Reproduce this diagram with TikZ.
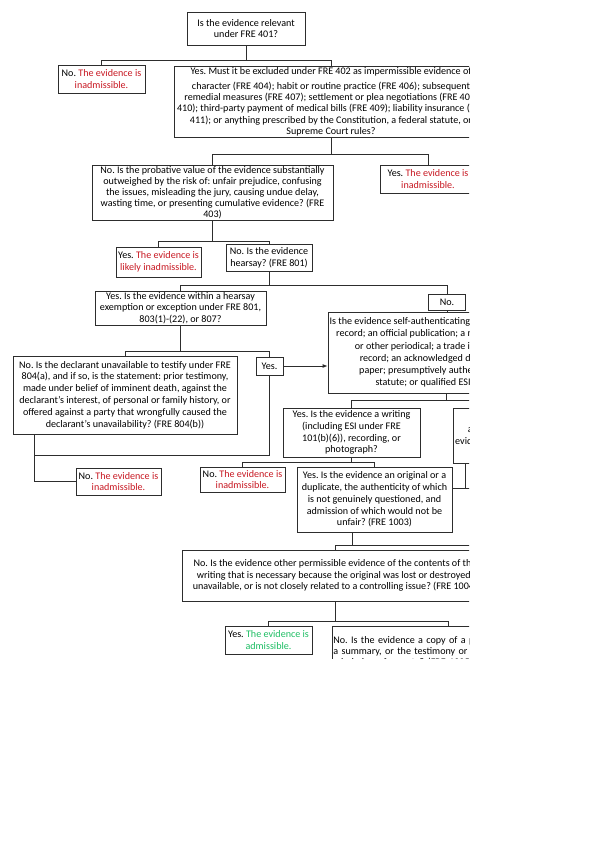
\documentclass[tikz,border=0pt]{standalone}
\usepackage{fontspec}
\setmainfont{Carlito}
\usepackage{xcolor}
\usepackage{tikz}
\usetikzlibrary{arrows.meta,calc}
\definecolor{boxline}{RGB}{45,45,45}
\definecolor{nored}{RGB}{200,25,35}
\definecolor{okgreen}{RGB}{30,190,100}
\newcommand{\bad}[1]{\textcolor{nored}{#1}}
\newcommand{\good}[1]{\textcolor{okgreen}{#1}}
\frenchspacing

\begin{document}
\begin{tikzpicture}[x=1pt,y=-1pt,
    box/.style={draw=boxline,fill=white,line width=0.75pt,align=center,inner sep=1pt,
      font=\fontsize{10.1}{11.8}\selectfont},
    link/.style={draw=boxline,line width=0.9pt}]
  \useasboundingbox (0,0) rectangle (595,842);
  \begin{scope}
  \clip (0,0) rectangle (469,658);
  % first questions
  \node[box,minimum width=118pt,minimum height=33pt] (q401) at (246,28.5)
    {Is the evidence relevant\\under FRE 401?};
  \node[box,minimum width=87pt,minimum height=28pt] (no401) at (101.5,79)
    {No. \bad{The evidence is}\\\bad{inadmissible.}};
  \node[box,minimum width=314pt,minimum height=70pt,font=\fontsize{10.1}{11.4}\selectfont] (q402) at (331,102)
    {Yes. Must it be excluded under FRE 402 as impermissible evidence of\\[3pt]
     character (FRE 404); habit or routine practice (FRE 406); subsequent\\
     remedial measures (FRE 407); settlement or plea negotiations (FRE 408,\\
     410); third-party payment of medical bills (FRE 409); liability insurance (FRE\\
     411); or anything prescribed by the Constitution, a federal statute, or\\
     Supreme Court rules?};
  \node[box,minimum width=241pt,minimum height=55pt,font=\fontsize{10.1}{11}\selectfont] (q403) at (212.5,192.5)
    {No. Is the probative value of the evidence substantially\\
     outweighed by the risk of: unfair prejudice, confusing\\
     the issues, misleading the jury, causing undue delay,\\
     wasting time, or presenting cumulative evidence? (FRE\\
     403)};
  \node[box,minimum width=96pt,minimum height=28pt] (yes402) at (428,179)
    {Yes. \bad{The evidence is}\\\bad{inadmissible.}};
  \node[box,minimum width=85pt,minimum height=30pt] (yes403) at (158.5,262)
    {Yes. \bad{The evidence is}\\\bad{likely inadmissible.}};
  \node[box,minimum width=86pt,minimum height=27pt] (q801) at (269,258)
    {No. Is the evidence\\hearsay? (FRE 801)};
  % hearsay
  \node[box,minimum width=171pt,minimum height=33pt] (q803) at (180.5,308)
    {Yes. Is the evidence within a hearsay\\
     exemption or exception under FRE 801,\\
     803(1)-(22), or 807?};
  \node[box,minimum width=37pt,minimum height=16pt] (no801) at (447,302) {No.};
  \node[box,minimum width=236pt,minimum height=81pt,font=\fontsize{10.1}{12.3}\selectfont] (qself) at (446,352.5)
    {Is the evidence self-authenticating: a public document or\\
     record; an official publication; a newspaper, magazine\\
     or other periodical; a trade inscription or tag\\
     record; an acknowledged document; bank\\
     paper; presumptively authenticated under\\
     statute; or qualified ESI? (FRE 902)};
  \node[box,minimum width=224pt,minimum height=78pt] (q804) at (125,395)
    {No. Is the declarant unavailable to testify under FRE\\
     804(a), and if so, is the statement: prior testimony,\\
     made under belief of imminent death, against the\\
     declarant's interest, of personal or family history, or\\
     offered against a party that wrongfully caused the\\
     declarant's unavailability? (FRE 804(b))};
  \node[box,minimum width=27pt,minimum height=18pt] (yes803) at (269.5,366) {Yes.};
  \node[box,minimum width=85pt,minimum height=27pt] (no804) at (118.5,481.5)
    {No. \bad{The evidence is}\\\bad{inadmissible.}};
  % writings
  \node[box,minimum width=137pt,minimum height=49pt] (qwrite) at (351.5,432.5)
    {Yes. Is the evidence a writing\\
     (including ESI under FRE\\
     101(b)(6)), recording, or\\
     photograph?};
  \node[box,minimum width=124pt,minimum height=55pt] (qauth) at (515,435.5)
    {No. Is the evidence\\
     authenticated by other\\
     evidence sufficient to show it\\
     a finding? (FRE 901)};
  \node[box,minimum width=85pt,minimum height=25pt] (nowrite) at (242.5,479.5)
    {No. \bad{The evidence is}\\\bad{inadmissible.}};
  \node[box,minimum width=155pt,minimum height=65pt] (qorig) at (374.5,499.5)
    {Yes. Is the evidence an original or a\\
     duplicate, the authenticity of which\\
     is not genuinely questioned, and\\
     admission of which would not be\\
     unfair? (FRE 1003)};
  \node[box,minimum width=306pt,minimum height=51pt] (qother) at (335,575.5)
    {No. Is the evidence other permissible evidence of the contents of the\\
     writing that is necessary because the original was lost or destroyed,\\
     unavailable, or is not closely related to a controlling issue? (FRE 1004)};
  \node[box,minimum width=87pt,minimum height=28pt] (yes1004) at (268.5,640)
    {Yes. \good{The evidence is}\\\good{admissible.}};
  \node[box,align=left,text width=230pt,minimum height=50pt,inner ysep=4.5pt,inner xsep=1pt,
    font=\fontsize{10.1}{11}\selectfont,anchor=north west] (qcopy) at (332,626)
    {No. Is the evidence a copy of a public record,\\
     a summary, or the testimony or statement of\\
     admission of a party? (FRE 1005-1007)};
  % connectors
  \coordinate (j401) at ($(q401.south)+(0,15)$);
  \coordinate (j402) at ($(q402.south)+(0,17)$);
  \coordinate (j403) at ($(q403.south)+(0,21)$);
  \coordinate (j801) at ($(q801.south)+(0,13.5)$);
  \coordinate (j803) at ($(q803.south)+(0,26.5)$);
  \coordinate (j804) at (35,455);
  \coordinate (jself) at ($(qself.south)+(0,7)$);
  \coordinate (jwrite) at ($(qwrite.south)+(0,5)$);
  \coordinate (jorig) at (352,545);
  \coordinate (jother) at ($(qother.south)+(0,20)$);
  \draw[link] (q401.south) -- (j401);
  \foreach \t in {no401,q402} \draw[link] (j401) -| (\t.north);
  \draw[link] (q402.south) -- (j402);
  \foreach \t in {q403,yes402} \draw[link] (j402) -| (\t.north);
  \draw[link] (q403.south) -- (j403);
  \foreach \t in {yes403,q801} \draw[link] (j403) -| (\t.north);
  \draw[link] (q801.south) -- (j801);
  \foreach \t in {q803,no801} \draw[link] (j801) -| (\t.north);
  \draw[link] (no801.south) -- (no801.south |- qself.north);
  \draw[link] (q803.south) -- (j803);
  \foreach \t in {q804,yes803} \draw[link] (j803) -| (\t.north);
  \draw[link,-{Latex[length=5pt,width=4pt]}] (yes803.east) -- (yes803.east -| qself.west);
  \draw[link] ([xshift=22pt]q804.south west) |- (no804.west);
  \draw[link] (yes803.south) |- (j804);
  \draw[link] (qself.south) -- (jself);
  \foreach \t in {qwrite,qauth} \draw[link] (jself) -| (\t.north);
  \draw[link] (qwrite.south) -- (jwrite);
  \foreach \t in {nowrite,qorig} \draw[link] (jwrite) -| (\t.north);
  \draw[link] ([xshift=13pt]qauth.south west) |- ([yshift=11.5pt]qorig.east);
  \draw[link] ([yshift=11.5pt]qorig.east) -- ++(120,0);
  \draw[link] (jorig |- qorig.south) -- (jorig);
  \draw[link] (jorig) -| (qother.north);
  \draw[link] (jorig) -- ++(150,0);
  \draw[link] (qother.south) -- (jother);
  \foreach \t in {yes1004,qcopy} \draw[link] (jother) -| (\t.north);
  \end{scope}
\end{tikzpicture}
\end{document}
